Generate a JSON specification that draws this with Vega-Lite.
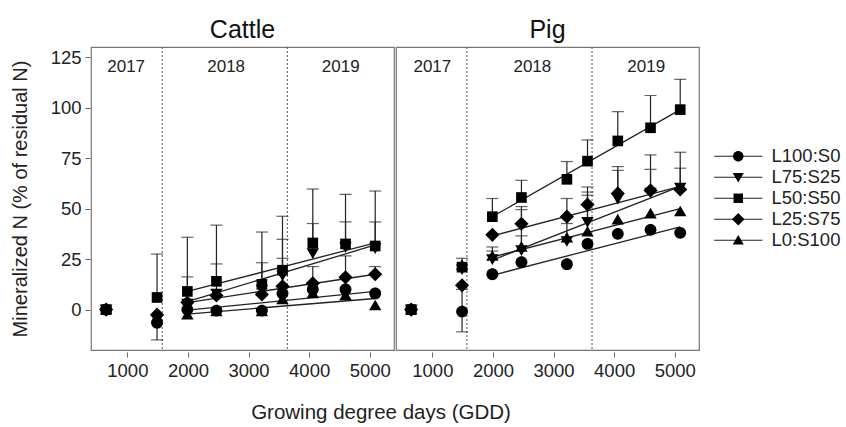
{
"$schema": "https://vega.github.io/schema/vega-lite/v6.json",
"background": "white",
"padding": {"left": 10, "top": 18, "right": 3, "bottom": 5},
"title": {"text": "Growing degree days (GDD)", "orient": "bottom", "anchor": "start", "dx": 241, "fontSize": 20.5, "fontWeight": "normal", "font": "Liberation Sans", "color": "#222", "offset": 23},
"datasets": {
"all": [
{"k":"p","panel":"Cattle","t":"L100:S0","g":650,"v":0},{"k":"p","panel":"Cattle","t":"L75:S25","g":650,"v":0},{"k":"p","panel":"Cattle","t":"L50:S50","g":650,"v":0},{"k":"p","panel":"Cattle","t":"L25:S75","g":650,"v":0},{"k":"p","panel":"Cattle","t":"L0:S100","g":650,"v":0},
{"k":"p","panel":"Cattle","t":"L100:S0","g":1490,"v":-6.5},{"k":"p","panel":"Cattle","t":"L75:S25","g":1490,"v":-5},{"k":"p","panel":"Cattle","t":"L50:S50","g":1490,"v":6},{"k":"p","panel":"Cattle","t":"L25:S75","g":1490,"v":-2.5},{"k":"p","panel":"Cattle","t":"L0:S100","g":1490,"v":-4},
{"k":"p","panel":"Cattle","t":"L100:S0","g":1990,"v":0},{"k":"p","panel":"Cattle","t":"L75:S25","g":1990,"v":3},{"k":"p","panel":"Cattle","t":"L50:S50","g":1990,"v":9},{"k":"p","panel":"Cattle","t":"L25:S75","g":1990,"v":3.5},{"k":"p","panel":"Cattle","t":"L0:S100","g":1990,"v":-2.5},
{"k":"p","panel":"Cattle","t":"L100:S0","g":2470,"v":-0.5},{"k":"p","panel":"Cattle","t":"L75:S25","g":2470,"v":8},{"k":"p","panel":"Cattle","t":"L50:S50","g":2470,"v":14},{"k":"p","panel":"Cattle","t":"L25:S75","g":2470,"v":7},{"k":"p","panel":"Cattle","t":"L0:S100","g":2470,"v":-1},
{"k":"p","panel":"Cattle","t":"L100:S0","g":3220,"v":-0.5},{"k":"p","panel":"Cattle","t":"L75:S25","g":3220,"v":10},{"k":"p","panel":"Cattle","t":"L50:S50","g":3220,"v":12.5},{"k":"p","panel":"Cattle","t":"L25:S75","g":3220,"v":7.5},{"k":"p","panel":"Cattle","t":"L0:S100","g":3220,"v":-1},
{"k":"p","panel":"Cattle","t":"L100:S0","g":3560,"v":8},{"k":"p","panel":"Cattle","t":"L75:S25","g":3560,"v":17},{"k":"p","panel":"Cattle","t":"L50:S50","g":3560,"v":19.5},{"k":"p","panel":"Cattle","t":"L25:S75","g":3560,"v":11.5},{"k":"p","panel":"Cattle","t":"L0:S100","g":3560,"v":5},
{"k":"p","panel":"Cattle","t":"L100:S0","g":4060,"v":10},{"k":"p","panel":"Cattle","t":"L75:S25","g":4060,"v":28},{"k":"p","panel":"Cattle","t":"L50:S50","g":4060,"v":33},{"k":"p","panel":"Cattle","t":"L25:S75","g":4060,"v":13},{"k":"p","panel":"Cattle","t":"L0:S100","g":4060,"v":8},
{"k":"p","panel":"Cattle","t":"L100:S0","g":4600,"v":10},{"k":"p","panel":"Cattle","t":"L75:S25","g":4600,"v":31},{"k":"p","panel":"Cattle","t":"L50:S50","g":4600,"v":32.5},{"k":"p","panel":"Cattle","t":"L25:S75","g":4600,"v":16},{"k":"p","panel":"Cattle","t":"L0:S100","g":4600,"v":7},
{"k":"p","panel":"Cattle","t":"L100:S0","g":5090,"v":8},{"k":"p","panel":"Cattle","t":"L75:S25","g":5090,"v":30.5},{"k":"p","panel":"Cattle","t":"L50:S50","g":5090,"v":31.5},{"k":"p","panel":"Cattle","t":"L25:S75","g":5090,"v":17.5},{"k":"p","panel":"Cattle","t":"L0:S100","g":5090,"v":2},
{"k":"e","panel":"Cattle","t":"L50:S50","g":1490,"lo":6,"hi":27.5},{"k":"e","panel":"Cattle","t":"L100:S0","g":1490,"lo":-15,"hi":-6.5,"lc":1},
{"k":"e","panel":"Cattle","t":"L50:S50","g":1990,"lo":9,"hi":35.8},{"k":"e","panel":"Cattle","t":"L75:S25","g":1990,"lo":3,"hi":16.2},
{"k":"e","panel":"Cattle","t":"L50:S50","g":2470,"lo":14,"hi":41.8},{"k":"e","panel":"Cattle","t":"L75:S25","g":2470,"lo":8,"hi":22.6},
{"k":"e","panel":"Cattle","t":"L50:S50","g":3220,"lo":12.5,"hi":38.4},{"k":"e","panel":"Cattle","t":"L75:S25","g":3220,"lo":10,"hi":23.2},
{"k":"e","panel":"Cattle","t":"L50:S50","g":3560,"lo":19.5,"hi":46.2},{"k":"e","panel":"Cattle","t":"L75:S25","g":3560,"lo":17,"hi":34.8},{"k":"e","panel":"Cattle","t":"L25:S75","g":3560,"lo":11.5,"hi":25.4},
{"k":"e","panel":"Cattle","t":"L50:S50","g":4060,"lo":33,"hi":59.7},{"k":"e","panel":"Cattle","t":"L75:S25","g":4060,"lo":28,"hi":42.6},{"k":"e","panel":"Cattle","t":"L25:S75","g":4060,"lo":13,"hi":21.3},
{"k":"e","panel":"Cattle","t":"L50:S50","g":4600,"lo":32.5,"hi":57},{"k":"e","panel":"Cattle","t":"L75:S25","g":4600,"lo":31,"hi":43.4},{"k":"e","panel":"Cattle","t":"L25:S75","g":4600,"lo":16,"hi":26.6},
{"k":"e","panel":"Cattle","t":"L50:S50","g":5090,"lo":31.5,"hi":58.7},{"k":"e","panel":"Cattle","t":"L75:S25","g":5090,"lo":30.5,"hi":43.4},{"k":"e","panel":"Cattle","t":"L25:S75","g":5090,"lo":17.5,"hi":21.3},
{"k":"f","panel":"Cattle","t":"L50:S50","g":1990,"v":9},{"k":"f","panel":"Cattle","t":"L50:S50","g":5090,"v":33},
{"k":"f","panel":"Cattle","t":"L75:S25","g":1990,"v":4},{"k":"f","panel":"Cattle","t":"L75:S25","g":5090,"v":32},
{"k":"f","panel":"Cattle","t":"L25:S75","g":1990,"v":3.5},{"k":"f","panel":"Cattle","t":"L25:S75","g":5090,"v":17.5},
{"k":"f","panel":"Cattle","t":"L100:S0","g":1990,"v":-0.3},{"k":"f","panel":"Cattle","t":"L100:S0","g":5090,"v":9},
{"k":"f","panel":"Cattle","t":"L0:S100","g":1990,"v":-2.2},{"k":"f","panel":"Cattle","t":"L0:S100","g":5090,"v":5.5},
{"k":"d","panel":"Cattle","g":1575},{"k":"d","panel":"Cattle","g":3640},
{"k":"y","panel":"Cattle","g":980,"v":120,"lab":"2017"},{"k":"y","panel":"Cattle","g":2630,"v":120,"lab":"2018"},{"k":"y","panel":"Cattle","g":4520,"v":120,"lab":"2019"},
{"k":"p","panel":"Pig","t":"L100:S0","g":650,"v":0},{"k":"p","panel":"Pig","t":"L75:S25","g":650,"v":0},{"k":"p","panel":"Pig","t":"L50:S50","g":650,"v":0},{"k":"p","panel":"Pig","t":"L25:S75","g":650,"v":0},{"k":"p","panel":"Pig","t":"L0:S100","g":650,"v":0},
{"k":"p","panel":"Pig","t":"L100:S0","g":1490,"v":-1},{"k":"p","panel":"Pig","t":"L75:S25","g":1490,"v":20},{"k":"p","panel":"Pig","t":"L50:S50","g":1490,"v":21},{"k":"p","panel":"Pig","t":"L25:S75","g":1490,"v":12},{"k":"p","panel":"Pig","t":"L0:S100","g":1490,"v":22},
{"k":"p","panel":"Pig","t":"L100:S0","g":1990,"v":17.5},{"k":"p","panel":"Pig","t":"L75:S25","g":1990,"v":25},{"k":"p","panel":"Pig","t":"L50:S50","g":1990,"v":46},{"k":"p","panel":"Pig","t":"L25:S75","g":1990,"v":37},{"k":"p","panel":"Pig","t":"L0:S100","g":1990,"v":26.5},
{"k":"p","panel":"Pig","t":"L100:S0","g":2470,"v":23.5},{"k":"p","panel":"Pig","t":"L75:S25","g":2470,"v":29.5},{"k":"p","panel":"Pig","t":"L50:S50","g":2470,"v":55.5},{"k":"p","panel":"Pig","t":"L25:S75","g":2470,"v":42.5},{"k":"p","panel":"Pig","t":"L0:S100","g":2470,"v":31},
{"k":"p","panel":"Pig","t":"L100:S0","g":3220,"v":22.5},{"k":"p","panel":"Pig","t":"L75:S25","g":3220,"v":34},{"k":"p","panel":"Pig","t":"L50:S50","g":3220,"v":64.5},{"k":"p","panel":"Pig","t":"L25:S75","g":3220,"v":46},{"k":"p","panel":"Pig","t":"L0:S100","g":3220,"v":35.5},
{"k":"p","panel":"Pig","t":"L100:S0","g":3560,"v":32.5},{"k":"p","panel":"Pig","t":"L75:S25","g":3560,"v":43.5},{"k":"p","panel":"Pig","t":"L50:S50","g":3560,"v":73.5},{"k":"p","panel":"Pig","t":"L25:S75","g":3560,"v":52},{"k":"p","panel":"Pig","t":"L0:S100","g":3560,"v":38.5},
{"k":"p","panel":"Pig","t":"L100:S0","g":4060,"v":37.5},{"k":"p","panel":"Pig","t":"L75:S25","g":4060,"v":55},{"k":"p","panel":"Pig","t":"L50:S50","g":4060,"v":83.5},{"k":"p","panel":"Pig","t":"L25:S75","g":4060,"v":57.5},{"k":"p","panel":"Pig","t":"L0:S100","g":4060,"v":44.5},
{"k":"p","panel":"Pig","t":"L100:S0","g":4600,"v":39.5},{"k":"p","panel":"Pig","t":"L75:S25","g":4600,"v":58},{"k":"p","panel":"Pig","t":"L50:S50","g":4600,"v":90},{"k":"p","panel":"Pig","t":"L25:S75","g":4600,"v":59},{"k":"p","panel":"Pig","t":"L0:S100","g":4600,"v":47.5},
{"k":"p","panel":"Pig","t":"L100:S0","g":5090,"v":38},{"k":"p","panel":"Pig","t":"L75:S25","g":5090,"v":60.5},{"k":"p","panel":"Pig","t":"L50:S50","g":5090,"v":99},{"k":"p","panel":"Pig","t":"L25:S75","g":5090,"v":59.5},{"k":"p","panel":"Pig","t":"L0:S100","g":5090,"v":48.5},
{"k":"e","panel":"Pig","t":"L0:S100","g":1490,"lo":22,"hi":25.4},{"k":"e","panel":"Pig","t":"L100:S0","g":1490,"lo":-11,"hi":10,"lc":1},
{"k":"e","panel":"Pig","t":"L50:S50","g":1990,"lo":46,"hi":55},{"k":"e","panel":"Pig","t":"L0:S100","g":1990,"lo":26.5,"hi":31},{"k":"e","panel":"Pig","t":"L75:S25","g":1990,"lo":25,"hi":29},
{"k":"e","panel":"Pig","t":"L50:S50","g":2470,"lo":55.5,"hi":64},{"k":"e","panel":"Pig","t":"L25:S75","g":2470,"lo":42.5,"hi":51},{"k":"e","panel":"Pig","t":"L75:S25","g":2470,"lo":29.5,"hi":49.5},{"k":"e","panel":"Pig","t":"L0:S100","g":2470,"lo":31,"hi":36.5},
{"k":"e","panel":"Pig","t":"L50:S50","g":3220,"lo":64.5,"hi":73.3},{"k":"e","panel":"Pig","t":"L25:S75","g":3220,"lo":46,"hi":55},{"k":"e","panel":"Pig","t":"L75:S25","g":3220,"lo":34,"hi":42.6},
{"k":"e","panel":"Pig","t":"L50:S50","g":3560,"lo":73.5,"hi":84},{"k":"e","panel":"Pig","t":"L25:S75","g":3560,"lo":52,"hi":60.7},{"k":"e","panel":"Pig","t":"L75:S25","g":3560,"lo":43.5,"hi":58.2},{"k":"e","panel":"Pig","t":"L0:S100","g":3560,"lo":38.5,"hi":56.6},
{"k":"e","panel":"Pig","t":"L50:S50","g":4060,"lo":83.5,"hi":98},{"k":"e","panel":"Pig","t":"L25:S75","g":4060,"lo":57.5,"hi":70.8},{"k":"e","panel":"Pig","t":"L75:S25","g":4060,"lo":55,"hi":68.9},
{"k":"e","panel":"Pig","t":"L50:S50","g":4600,"lo":90,"hi":106},{"k":"e","panel":"Pig","t":"L25:S75","g":4600,"lo":59,"hi":76.6},{"k":"e","panel":"Pig","t":"L75:S25","g":4600,"lo":58,"hi":69.4},
{"k":"e","panel":"Pig","t":"L50:S50","g":5090,"lo":99,"hi":114},{"k":"e","panel":"Pig","t":"L25:S75","g":5090,"lo":59.5,"hi":77.9},{"k":"e","panel":"Pig","t":"L75:S25","g":5090,"lo":60.5,"hi":70},
{"k":"f","panel":"Pig","t":"L50:S50","g":1990,"v":46},{"k":"f","panel":"Pig","t":"L50:S50","g":5090,"v":99},
{"k":"f","panel":"Pig","t":"L25:S75","g":1990,"v":36.5},{"k":"f","panel":"Pig","t":"L25:S75","g":5090,"v":61},
{"k":"f","panel":"Pig","t":"L75:S25","g":1990,"v":24.5},{"k":"f","panel":"Pig","t":"L75:S25","g":5090,"v":61},
{"k":"f","panel":"Pig","t":"L0:S100","g":1990,"v":26},{"k":"f","panel":"Pig","t":"L0:S100","g":5090,"v":50},
{"k":"f","panel":"Pig","t":"L100:S0","g":1990,"v":17},{"k":"f","panel":"Pig","t":"L100:S0","g":5090,"v":41},
{"k":"d","panel":"Pig","g":1570},{"k":"d","panel":"Pig","g":3635},
{"k":"y","panel":"Pig","g":1000,"v":120,"lab":"2017"},{"k":"y","panel":"Pig","g":2650,"v":120,"lab":"2018"},{"k":"y","panel":"Pig","g":4530,"v":120,"lab":"2019"}
]
},
"data": {"name": "all"},
"facet": {"column": {"field": "panel", "type": "nominal", "title": null,
  "header": {"labelFontSize": 25, "labelFont": "Liberation Sans", "labelColor": "#111", "labelPadding": 2}}},
"spacing": 0,
"spec": {
  "width": 303,
  "height": 303,
  "layer": [
    {"transform": [{"filter": "datum.k === 'd'"}],
     "mark": {"type": "rule", "color": "#555", "strokeDash": [2, 2], "strokeWidth": 1},
     "encoding": {"x": {"field": "g", "type": "quantitative", "scale": {"domain": [400, 5400], "nice": false, "zero": false}, "title": null, "axis": {"values": [1000, 2000, 3000, 4000, 5000], "format": "d"}}}},
    {"transform": [{"filter": "datum.k === 'y'"}],
     "mark": {"type": "text", "fontSize": 17, "font": "Liberation Sans", "color": "#222", "baseline": "middle"},
     "encoding": {"x": {"field": "g", "type": "quantitative"}, "y": {"field": "v", "type": "quantitative"}, "text": {"field": "lab"}}},
    {"transform": [{"filter": "datum.k === 'e'"}],
     "mark": {"type": "rule", "color": "#222", "strokeWidth": 1.2},
     "encoding": {"x": {"field": "g", "type": "quantitative"}, "y": {"field": "lo", "type": "quantitative"}, "y2": {"field": "hi"}}},
    {"transform": [{"filter": "datum.k === 'e'"}],
     "mark": {"type": "tick", "orient": "horizontal", "color": "#222", "size": 12, "thickness": 1.2},
     "encoding": {"x": {"field": "g", "type": "quantitative"}, "y": {"field": "hi", "type": "quantitative"}}},
    {"transform": [{"filter": "datum.k === 'e' && datum.lc === 1"}],
     "mark": {"type": "tick", "orient": "horizontal", "color": "#222", "size": 12, "thickness": 1.2},
     "encoding": {"x": {"field": "g", "type": "quantitative"}, "y": {"field": "lo", "type": "quantitative"}}},
    {"transform": [{"filter": "datum.k === 'f'"}],
     "mark": {"type": "line", "strokeWidth": 1.3},
     "encoding": {"x": {"field": "g", "type": "quantitative"}, "y": {"field": "v", "type": "quantitative"},
       "color": {"field": "t", "type": "nominal",
         "scale": {"domain": ["L100:S0", "L75:S25", "L50:S50", "L25:S75", "L0:S100"], "range": ["#222", "#222", "#222", "#222", "#222"]},
         "legend": {"title": null, "orient": "none", "legendX": 638, "legendY": 100, "symbolType": "M-4.6,0H4.6", "symbolSize": 110, "symbolStrokeWidth": 1.2, "labelFontSize": 18.5, "labelFont": "Liberation Sans", "labelColor": "#222", "labelOffset": 24, "rowPadding": 2}}}},
    {"transform": [{"filter": "datum.k === 'p'"}],
     "mark": {"type": "point", "filled": true, "size": 140, "opacity": 1, "color": "#000"},
     "encoding": {
       "x": {"field": "g", "type": "quantitative"},
       "y": {"field": "v", "type": "quantitative", "scale": {"domain": [-20, 130], "nice": false, "zero": false}, "title": "Mineralized N (% of residual N)", "axis": {"values": [0, 25, 50, 75, 100, 125]}},
       "shape": {"field": "t", "type": "nominal",
         "scale": {"domain": ["L0:S100", "L25:S75", "L50:S50", "L75:S25", "L100:S0"],
                   "range": ["M-1.05,0.8L1.05,0.8L0,-1Z", "M0,-1.2L1.2,0L0,1.2L-1.2,0Z", "M-0.9,-0.9H0.9V0.9H-0.9Z", "M-1.05,-0.8L1.05,-0.8L0,1Z", "M-1,0A1,1,0,1,1,1,0A1,1,0,1,1,-1,0Z"]},
         "legend": {"title": null, "orient": "none", "legendX": 638, "legendY": 100, "values": ["L100:S0", "L75:S25", "L50:S50", "L25:S75", "L0:S100"], "symbolSize": 110, "symbolFillColor": "#000", "symbolStrokeWidth": 0, "labelFontSize": 18.5, "labelFont": "Liberation Sans", "labelOpacity": 0, "labelOffset": 24, "rowPadding": 2}}
     }}
  ]
},
"config": {
  "view": {"stroke": "#777", "strokeWidth": 1.2},
  "axis": {"labelFontSize": 18.5, "labelFont": "Liberation Sans", "labelColor": "#222", "titleFont": "Liberation Sans", "titleFontSize": 20, "titleFontWeight": "normal", "titleColor": "#222", "tickColor": "#666", "tickSize": 5, "domain": false, "grid": false, "labelPadding": 4},
  "axisY": {"titlePadding": 20}
}
}
